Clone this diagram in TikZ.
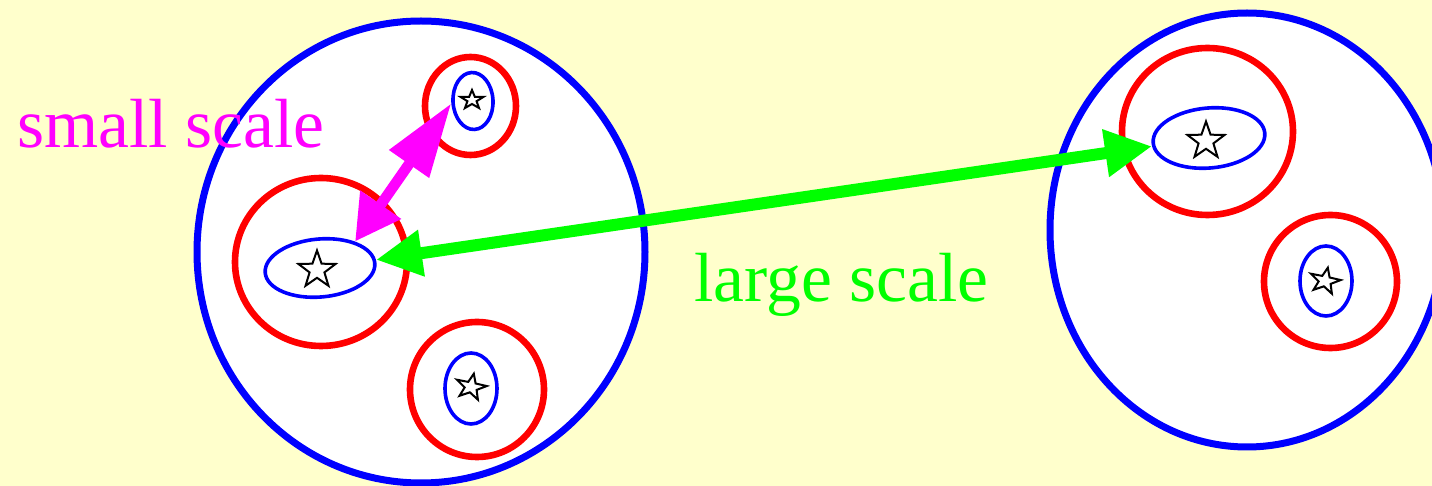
\documentclass[tikz,border=0pt]{standalone}
\usepackage{fontspec}
\setmainfont{Liberation Serif}
\usetikzlibrary{shapes.geometric,arrows.meta}
\definecolor{bgyellow}{HTML}{FFFFCC}
\definecolor{myblue}{HTML}{0000FF}
\definecolor{myred}{HTML}{FF0000}
\definecolor{mymag}{HTML}{FF00FF}
\definecolor{mygreen}{HTML}{00FF00}
\begin{document}
\begin{tikzpicture}[x=0.5pt,y=-0.5pt,
  galaxy/.style={ellipse, draw=myblue, line width=3.5pt, fill=white, inner sep=0pt},
  halo/.style={ellipse, draw=myred, line width=3.3pt, inner sep=0pt},
  core/.style={ellipse, draw=myblue, line width=1.8pt, inner sep=0pt},
  starmark/.style={star, star points=5, star point ratio=2.5, draw=black, line width=1pt, inner sep=0pt, transform shape},
  lbl/.style={font=\fontsize{34.8pt}{40pt}\selectfont, inner sep=0pt, anchor=base west},
  garrow/.style={draw=mygreen, line width=6pt, {Triangle[length=23pt,width=22pt]}-{Triangle[length=23.5pt,width=22.5pt]}},
  marrow/.style={draw=mymag, line width=5.3pt, {Triangle[length=22.5pt,width=23.5pt]}-{Triangle[length=37pt,width=23pt]}}]
\fill[bgyellow] (0,0) rectangle (1432,486);
\useasboundingbox (0,0) rectangle (1432,486);
\clip (0,0) rectangle (1432,486);
% big galaxies
\node[galaxy, minimum width=224pt, minimum height=231pt] (gl) at (421,252) {};
\node[galaxy, minimum width=197pt, minimum height=217pt] (gr) at (1247,230) {};
% red halos
\node[halo, minimum width=45.5pt, minimum height=49pt] (hlt) at (470.5,106) {};
\node[halo, minimum width=86pt, minimum height=84pt] (hlm) at (321,262) {};
\node[halo, minimum width=67pt, minimum height=67.5pt] (hlb) at (477,389.5) {};
\node[halo, minimum width=85.5pt, minimum height=83.5pt] (hrt) at (1207.5,131.5) {};
\node[halo, minimum width=66.5pt, minimum height=66.5pt] (hrb) at (1330.5,281.5) {};
% blue cores
\node[core, minimum width=20pt, minimum height=28.5pt, rotate=3] (clt) at (473,101) {};
\node[core, minimum width=55pt, minimum height=29pt, rotate=5] (clm) at (320,268) {};
\node[core, minimum width=26pt, minimum height=35.5pt] (clb) at (471,388.5) {};
\node[core, minimum width=56pt, minimum height=30pt, rotate=5] (crt) at (1209,138) {};
\node[core, minimum width=26pt, minimum height=35pt] (crb) at (1326,281) {};
% stars
\node[starmark, minimum size=12pt, yscale=0.83] (slt) at (472,100) {};
\node[starmark, minimum size=19.5pt] (slm) at (317,270) {};
\node[starmark, minimum size=16pt, rotate=-12, yscale=0.85] (slb) at (471,387) {};
\node[starmark, minimum size=19.5pt] (srt) at (1206,141) {};
\node[starmark, minimum size=16pt, rotate=-12, yscale=0.85] (srb) at (1325,281) {};
% arrows
\draw[garrow] (clm) -- (crt);
\draw[marrow] (clm.32) -- (clt.183);
% labels
\node[lbl, text=mymag] (small) at (17,148) {small scale};
\node[lbl, text=mygreen] (large) at (694,302) {large scale};
\end{tikzpicture}
\end{document}
